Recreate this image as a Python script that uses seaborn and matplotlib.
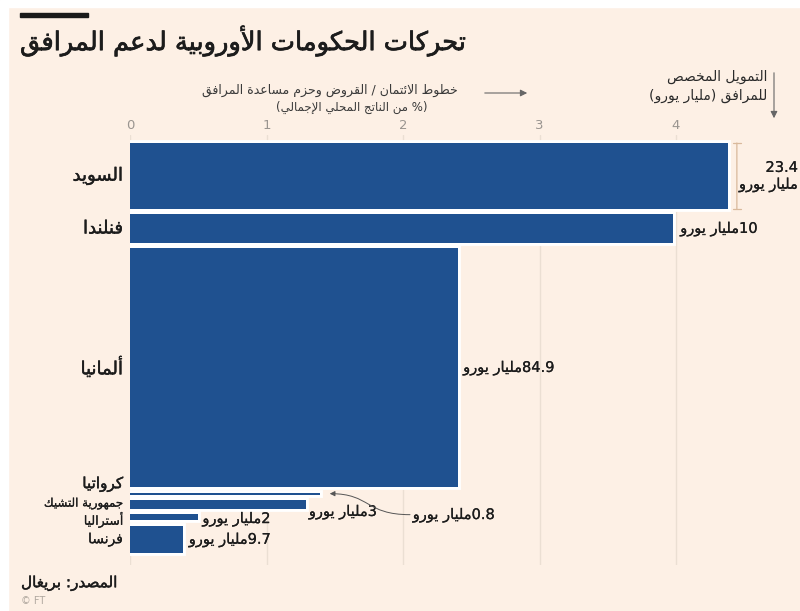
import matplotlib
matplotlib.use("Agg")
import matplotlib.pyplot as plt
import pandas as pd
import seaborn as sns
from matplotlib import patheffects as pe
from matplotlib.patches import FancyArrowPatch, Rectangle
from matplotlib.path import Path

# ---- data -------------------------------------------------------------
countries = ["السويد", "فنلندا", "ألمانيا", "كرواتيا", "جمهورية التشيك", "أستراليا", "فرنسا"]
gdp_share = [4.38, 3.98, 2.40, 1.39, 1.29, 0.50, 0.39]      # % of GDP (bar length)
funding_bn = [23.4, 10, 84.9, 0.8, 3, 2, 9.7]                 # bn euro (bar thickness)
funding_text = ["23.4", "10", "84.9", "0.8", "3", "2", "9.7"]
x_ticks = [0, 1, 2, 3, 4]

title = "تحركات الحكومات الأوروبية لدعم المرافق"
x_caption = ["خطوط الائتمان / القروض وحزم مساعدة المرافق", "(% من الناتج المحلي الإجمالي)"]
y_caption = ["التمويل المخصص", "للمرافق (مليار يورو)"]
unit = "مليار يورو"
source = "المصدر: بريغال"

# ---- Arabic shaping (contextual forms + right-to-left ordering) -------
_LETTERS = [("ء", 0xFE80, 1), ("آ", 0xFE81, 2), ("أ", 0xFE83, 2), ("ؤ", 0xFE85, 2),
            ("إ", 0xFE87, 2), ("ئ", 0xFE89, 4), ("ا", 0xFE8D, 2), ("ب", 0xFE8F, 4),
            ("ة", 0xFE93, 2), ("ت", 0xFE95, 4), ("ث", 0xFE99, 4), ("ج", 0xFE9D, 4),
            ("ح", 0xFEA1, 4), ("خ", 0xFEA5, 4), ("د", 0xFEA9, 2), ("ذ", 0xFEAB, 2),
            ("ر", 0xFEAD, 2), ("ز", 0xFEAF, 2), ("س", 0xFEB1, 4), ("ش", 0xFEB5, 4),
            ("ص", 0xFEB9, 4), ("ض", 0xFEBD, 4), ("ط", 0xFEC1, 4), ("ظ", 0xFEC5, 4),
            ("ع", 0xFEC9, 4), ("غ", 0xFECD, 4), ("ف", 0xFED1, 4), ("ق", 0xFED5, 4),
            ("ك", 0xFED9, 4), ("ل", 0xFEDD, 4), ("م", 0xFEE1, 4), ("ن", 0xFEE5, 4),
            ("ه", 0xFEE9, 4), ("و", 0xFEED, 2), ("ى", 0xFEEF, 2), ("ي", 0xFEF1, 4)]
_JOIN = {c: (start, kind) for c, start, kind in _LETTERS}
_LAM_ALEF = {"آ": 0xFEF5, "أ": 0xFEF7, "إ": 0xFEF9, "ا": 0xFEFB}
_MIRROR = {"(": ")", ")": "("}


def _shape(text):
    out, i, n = [], 0, len(text)
    while i < n:
        c = text[i]
        if c not in _JOIN:
            out.append(c)
            i += 1
            continue
        prev = text[i - 1] if i > 0 else ""
        link_prev = _JOIN.get(prev, (0, 0))[1] == 4
        if c == "ل" and i + 1 < n and text[i + 1] in _LAM_ALEF:
            out.append(chr(_LAM_ALEF[text[i + 1]] + (1 if link_prev else 0)))
            i += 2
            continue
        nxt = text[i + 1] if i + 1 < n else ""
        start, kind = _JOIN[c]
        link_next = kind == 4 and nxt in _JOIN
        if kind == 1:
            form = 0
        elif link_prev and link_next:
            form = 3
        elif link_prev:
            form = 1
        elif link_next:
            form = 2
        else:
            form = 0
        out.append(chr(start + form))
        i += 1
    return "".join(out)


def _visual_line(line):
    s = _shape(line)
    dirs = []
    for k, ch in enumerate(s):
        ltr = ch.isdigit() or ("a" <= ch.lower() <= "z")
        if ch == "." and 0 < k < len(s) - 1 and s[k - 1].isdigit() and s[k + 1].isdigit():
            ltr = True
        dirs.append(ltr)
    runs = []
    for ch, d in zip(s, dirs):
        if runs and runs[-1][0] == d:
            runs[-1][1].append(ch)
        else:
            runs.append([d, [ch]])
    pieces = []
    for d, chars in reversed(runs):
        if d:
            pieces.append("".join(chars))
        else:
            pieces.append("".join(_MIRROR.get(ch, ch) for ch in reversed(chars)))
    return "".join(pieces)


def ar(text):
    return "\n".join(_visual_line(l) for l in text.split("\n"))


# ---- style ------------------------------------------------------------
BG = "#fdf0e5"
BAR = "#1f5190"
INK = "#1c1c1c"
W, H = 800, 611
GAP = 2.0          # spacing between bars, in bn-euro units


def heavy(w=0.5, color=INK):
    return [pe.withStroke(linewidth=w, foreground=color)]


sns.set_theme(style="white", rc={"figure.facecolor": BG, "axes.facecolor": BG})
plt.rcParams["font.family"] = ["DejaVu Sans"]

fig = plt.figure(figsize=(W / 100, H / 100), dpi=100)


def fx(px):
    return px / W


def fy(py):
    return 1 - py / H


ax_top, ax_bot, ax_left, ax_right = 135, 565, 130, 758
ax = fig.add_axes([fx(ax_left), fy(ax_bot), fx(ax_right - ax_left), (ax_bot - ax_top) / H])
ax.set_facecolor(BG)

df = pd.DataFrame({"country": countries, "gdp": gdp_share, "funding": funding_bn})
sns.barplot(data=df, x="gdp", y="country", orient="h", color=BAR, saturation=1,
            ax=ax, zorder=3)

# bar thickness proportional to funding, stacked with a small gap
tops, centers = [], []
pos = 0.0
for f in funding_bn:
    tops.append(pos)
    centers.append(pos + f / 2)
    pos += f + GAP
stack_total = pos - GAP
for patch, top, f in zip(ax.patches, tops, funding_bn):
    patch.set_y(top)
    patch.set_height(f)
    patch.set_linewidth(0)
    patch.set_path_effects([pe.withStroke(linewidth=4.2, foreground="white")])

scale = (553 - 143) / stack_total          # pixels per bn euro
ax.set_ylim((ax_bot - 143) / scale, -(143 - ax_top) / scale)
ax.set_xlim(0, (ax_right - ax_left) / 136.5)

ax.set_yticks([])
ax.set_ylabel("")
ax.set_xlabel("")
ax.xaxis.tick_top()
ax.set_xticks(x_ticks)
ax.set_xticklabels([str(t) for t in x_ticks], color="#9a9590", fontsize=9.5)
ax.tick_params(axis="x", length=0, pad=2)
ax.grid(axis="x", color="#ebdfd3", linewidth=1, zorder=0)
ax.grid(axis="y", visible=False)
for sp in ax.spines.values():
    sp.set_visible(False)

# country names
name_size = [13, 13, 13, 11, 8.5, 9, 10]
name_nudge = [0, 0, 0, 7, 1, -1.5, 0]
for name, c, fs, dy in zip(countries, centers, name_size, name_nudge):
    ax.annotate(ar(name), xy=(0, c), xytext=(-5, dy), textcoords="offset points",
                ha="right", va="center", fontsize=fs, color=INK, annotation_clip=False,
                path_effects=heavy(0.3 if fs > 10 else 0.15))

# funding labels
VAL_FS = 10.5
val_offset = {1: (5, 0), 2: (4, 0), 4: (2, -5), 5: (3, -1), 6: (4, 0)}
for i, (g, c, t) in enumerate(zip(gdp_share, centers, funding_text)):
    if i in val_offset:
        dx, dy = val_offset[i]
        ax.annotate(ar(t + unit), xy=(g, c), xytext=(dx, dy), textcoords="offset points",
                    ha="left", va="center", fontsize=VAL_FS, color=INK, annotation_clip=False,
                    zorder=5, path_effects=heavy(0.15))

# Sweden: bracket spanning the bar thickness, label on the right
br_x = gdp_share[0] + 9 / 136.5
ax.annotate("", xy=(br_x, tops[0]), xytext=(br_x, tops[0] + funding_bn[0]),
            arrowprops=dict(arrowstyle="|-|,widthA=0.25,widthB=0.25", color="#d9b99c",
                            lw=0.9, shrinkA=0, shrinkB=0), annotation_clip=False)
ax.annotate(ar(funding_text[0] + "\n" + unit), xy=(br_x, centers[0]), xytext=(44, 0),
            textcoords="offset points", ha="right", va="center", multialignment="right",
            fontsize=VAL_FS, color=INK, linespacing=1.15, annotation_clip=False,
            path_effects=heavy(0.15))

# Croatia: thin bar, label placed aside with a curved pointer
cro = 3
lab_x = gdp_share[cro] + 93 / 136.5
lab_y = centers[cro] + 21 / scale
ax.text(lab_x, lab_y, ar(funding_text[cro] + unit), ha="left", va="center",
        fontsize=VAL_FS, color=INK, path_effects=heavy(0.15))
tip_x = gdp_share[cro] + 10 / 136.5
verts = [(lab_x - 0.02, lab_y), (lab_x - 0.35, lab_y),
         (tip_x + 0.3, centers[cro]), (tip_x, centers[cro])]
ax.add_patch(FancyArrowPatch(path=Path(verts, [Path.MOVETO, Path.CURVE4, Path.CURVE4, Path.CURVE4]),
                             arrowstyle="-|>,head_length=3,head_width=1.5",
                             color="#555555", lw=0.7, zorder=6, clip_on=False))

# ---- headings, captions and source -------------------------------------
fig.patches.append(Rectangle((fx(20), fy(17)), fx(68), 4 / H, transform=fig.transFigure,
                             color="#1a1a1a"))
fig.text(fx(20), fy(41), ar(title), ha="left", va="center", fontsize=18.5, color=INK,
         path_effects=heavy(0.5))

fig.text(fx(458), fy(90), ar(x_caption[0]), ha="right", va="center", fontsize=9,
         color="#3a3a3a")
fig.text(fx(428), fy(107), ar(x_caption[1]), ha="right", va="center", fontsize=8.5,
         color="#3a3a3a")
fig.patches.append(FancyArrowPatch((fx(482), fy(93)), (fx(530), fy(93)),
                                   transform=fig.transFigure,
                                   arrowstyle="-|>,head_length=4,head_width=2",
                                   color="#666666", lw=0.8))

fig.text(fx(767), fy(77), ar(y_caption[0]), ha="right", va="center", fontsize=10,
         color="#2a2a2a")
fig.text(fx(767), fy(96), ar(y_caption[1]), ha="right", va="center", fontsize=10,
         color="#2a2a2a")
fig.patches.append(FancyArrowPatch((fx(774), fy(70)), (fx(774), fy(121)),
                                   transform=fig.transFigure,
                                   arrowstyle="-|>,head_length=4,head_width=2",
                                   color="#666666", lw=0.8))

fig.text(fx(21), fy(583), ar(source), ha="left", va="center", fontsize=11, color=INK,
         path_effects=heavy(0.3))
fig.text(fx(21), fy(601), "© FT", ha="left", va="center", fontsize=7, color="#b0a89f")

# thin white frame along the top and left edges
fig.patches.append(Rectangle((0, fy(7)), 1, 7 / H, transform=fig.transFigure, color="white"))
fig.patches.append(Rectangle((0, 0), fx(8), 1, transform=fig.transFigure, color="white"))

fig.savefig("out.png", dpi=100, facecolor=BG)
